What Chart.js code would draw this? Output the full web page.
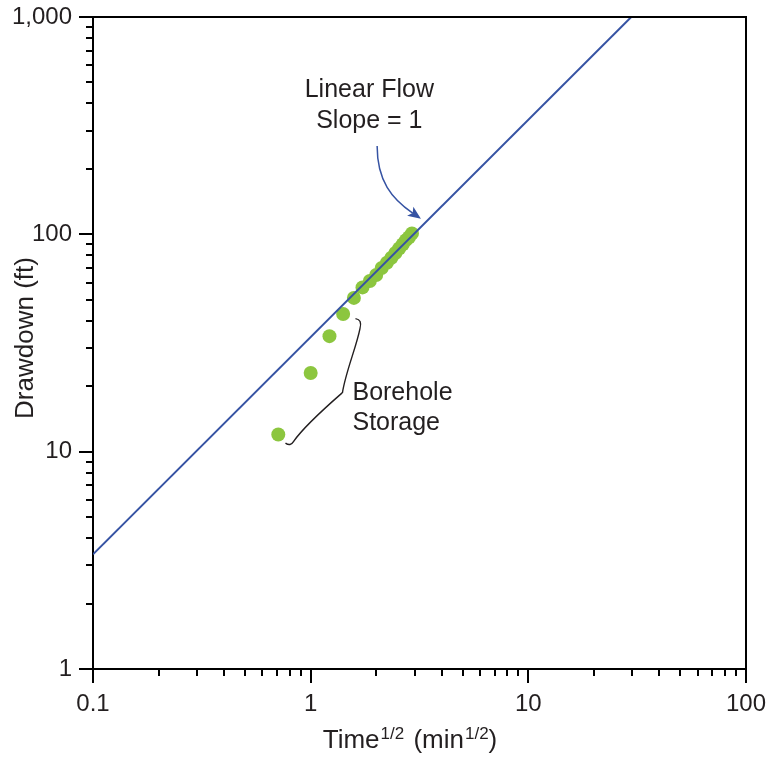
<!DOCTYPE html>
<html>
<head>
<meta charset="utf-8">
<script src="https://cdn.jsdelivr.net/npm/chart.js@4"></script>
<style>
  html, body { margin: 0; padding: 0; background: #fff; }
  canvas { display: block; }
</style>
</head>
<body>
<canvas id="c" width="770" height="761"></canvas>
<script>
// Square root of elapsed time (min^1/2) and measured drawdown (ft)
const sqrtTime = [0.71, 1.00, 1.22, 1.41, 1.58, 1.73, 1.87, 2.00, 2.12, 2.24, 2.35, 2.45, 2.55, 2.65, 2.74, 2.83, 2.92];
const drawdown = [12, 23, 34, 43, 51, 57, 61, 65, 70, 74, 78, 82, 86, 90, 94, 97, 101];

// Unit-slope linear-flow line
const lineX = [0.1, 29.7];
const lineY = [3.37, 1000];

// Axis ticks
const xTickValues = [0.1, 1, 10, 100];
const xTickLabels = ['0.1', '1', '10', '100'];
const yTickValues = [1, 10, 100, 1000];
const yTickLabels = ['1', '10', '100', '1,000'];

const FONT = '"Liberation Sans", Arial, Helvetica, sans-serif';
const INK = '#231f20';
const BLUE = '#3653a3';
const GREEN = '#8cc63f';

const decorations = {
  id: 'decorations',
  afterDraw(chart) {
    const { ctx, chartArea: a, scales: { x, y } } = chart;
    const X = v => x.getPixelForValue(v);
    const Y = v => y.getPixelForValue(v);
    ctx.save();

    // top and right frame
    ctx.strokeStyle = '#000';
    ctx.lineWidth = 2;
    ctx.beginPath();
    ctx.moveTo(a.left - 1, a.top);
    ctx.lineTo(a.right, a.top);
    ctx.lineTo(a.right, a.bottom);
    ctx.stroke();

    // minor ticks
    ctx.beginPath();
    [0.1, 1, 10].forEach(d => {
      for (let k = 2; k <= 9; k++) {
        const px = Math.round(X(d * k));
        ctx.moveTo(px, a.bottom);
        ctx.lineTo(px, a.bottom + 7);
      }
    });
    [1, 10, 100].forEach(d => {
      for (let k = 2; k <= 9; k++) {
        const py = Math.round(Y(d * k));
        ctx.moveTo(a.left, py);
        ctx.lineTo(a.left - 7, py);
      }
    });
    ctx.stroke();

    // axis titles
    ctx.fillStyle = INK;
    ctx.textBaseline = 'alphabetic';
    const big = '26px ' + FONT, small = '17px ' + FONT;
    const parts = [['Time', big, 0, 1], ['1/2', small, -9, 2], [' (min', big, 0, 1], ['1/2', small, -9, 0], [')', big, 0, 0]];
    let total = 0;
    parts.forEach(p => { ctx.font = p[1]; total += ctx.measureText(p[0]).width + p[3]; });
    let tx = (a.left + a.right) / 2 - 9.5 - total / 2;
    const tb = a.bottom + 79;
    ctx.textAlign = 'left';
    parts.forEach(p => {
      ctx.font = p[1];
      ctx.fillText(p[0], tx, tb + p[2]);
      tx += ctx.measureText(p[0]).width + p[3];
    });

    ctx.save();
    ctx.translate(a.left - 60, (a.top + a.bottom) / 2 - 5);
    ctx.rotate(-Math.PI / 2);
    ctx.font = big;
    ctx.textAlign = 'center';
    ctx.fillText('Drawdown (ft)', 0, 0);
    ctx.restore();

    // "Linear Flow" label and curved arrow
    ctx.font = '25px ' + FONT;
    ctx.textAlign = 'center';
    const lx = X(1.86), ly = Y(430);
    ctx.fillText('Linear Flow', lx, ly);
    ctx.fillText('Slope = 1', lx, ly + 31);

    const s = { x: X(2.02), y: Y(255) };
    const t = { x: X(3.21), y: Y(118) };
    const c1 = { x: s.x, y: s.y + 35 };
    const c2 = { x: t.x - 29, y: t.y - 20 };
    let dx = t.x - c2.x, dy = t.y - c2.y;
    const len = Math.hypot(dx, dy); dx /= len; dy /= len;
    const head = 13, half = 5.5;
    const base = { x: t.x - dx * head, y: t.y - dy * head };
    ctx.strokeStyle = BLUE;
    ctx.fillStyle = BLUE;
    ctx.lineWidth = 1.5;
    ctx.beginPath();
    ctx.moveTo(s.x, s.y);
    ctx.bezierCurveTo(c1.x, c1.y, c2.x, c2.y, base.x + dx * 3, base.y + dy * 3);
    ctx.stroke();
    ctx.beginPath();
    ctx.moveTo(t.x, t.y);
    ctx.lineTo(base.x - dy * half, base.y + dx * half);
    ctx.lineTo(base.x + dx * 3, base.y + dy * 3);
    ctx.lineTo(base.x + dy * half, base.y - dx * half);
    ctx.closePath();
    ctx.fill();

    // "Borehole Storage" label with brace
    ctx.fillStyle = INK;
    ctx.font = '25px ' + FONT;
    ctx.textAlign = 'left';
    const bx = X(1.556), by = Y(17.2);
    ctx.fillText('Borehole', bx, by);
    ctx.fillText('Storage', bx, by + 30);

    const cx = X(1.40), cy = Y(18.7);
    ctx.strokeStyle = INK;
    ctx.lineWidth = 1.4;
    ctx.beginPath();
    ctx.moveTo(cx + 13, cy - 74);
    ctx.quadraticCurveTo(cx + 20, cy - 73, cx + 17.5, cy - 64);
    ctx.bezierCurveTo(cx + 14, cy - 46, cx + 3, cy - 20, cx, cy);
    ctx.bezierCurveTo(cx - 8, cy + 7, cx - 38, cy + 33, cx - 49, cy + 49);
    ctx.quadraticCurveTo(cx - 52, cy + 54, cx - 57, cy + 50.5);
    ctx.stroke();

    ctx.restore();
  }
};

new Chart(document.getElementById('c'), {
  data: {
    datasets: [
      {
        type: 'line',
        order: 0,
        data: lineX.map((v, i) => ({ x: v, y: lineY[i] })),
        borderColor: BLUE,
        borderWidth: 2,
        pointRadius: 0,
        fill: false,
        tension: 0
      },
      {
        type: 'scatter',
        order: 1,
        data: sqrtTime.map((v, i) => ({ x: v, y: drawdown[i] })),
        backgroundColor: GREEN,
        borderWidth: 0,
        pointRadius: 7,
        pointHoverRadius: 7
      }
    ]
  },
  options: {
    responsive: false,
    animation: false,
    devicePixelRatio: 1,
    layout: { padding: { top: 17, right: 24, left: 0, bottom: 0 } },
    plugins: { legend: { display: false }, tooltip: { enabled: false } },
    scales: {
      x: {
        type: 'logarithmic',
        position: 'bottom',
        min: 0.1,
        max: 100,
        afterBuildTicks: s => { s.ticks = xTickValues.map(v => ({ value: v, major: true })); },
        afterFit: s => { s.height = 92; s.paddingLeft = 0; s.paddingRight = 0; },
        grid: { display: true, drawOnChartArea: false, drawTicks: true, tickLength: 14, color: '#000', lineWidth: 2 },
        border: { display: true, color: '#000', width: 2 },
        ticks: {
          autoSkip: false, maxRotation: 0, padding: 7, color: INK,
          font: { family: FONT, size: 24 },
          callback: (v, i) => xTickLabels[i]
        }
      },
      y: {
        type: 'logarithmic',
        position: 'left',
        min: 1,
        max: 1000,
        afterBuildTicks: s => { s.ticks = yTickValues.map(v => ({ value: v, major: true })); },
        afterFit: s => { s.width = 93; s.paddingTop = 0; s.paddingBottom = 0; },
        grid: { display: true, drawOnChartArea: false, drawTicks: true, tickLength: 14, color: '#000', lineWidth: 2 },
        border: { display: true, color: '#000', width: 2 },
        ticks: {
          autoSkip: false, padding: 7, color: INK,
          font: { family: FONT, size: 24 },
          callback: (v, i) => yTickLabels[i]
        }
      }
    }
  },
  plugins: [decorations]
});
</script>
</body>
</html>
